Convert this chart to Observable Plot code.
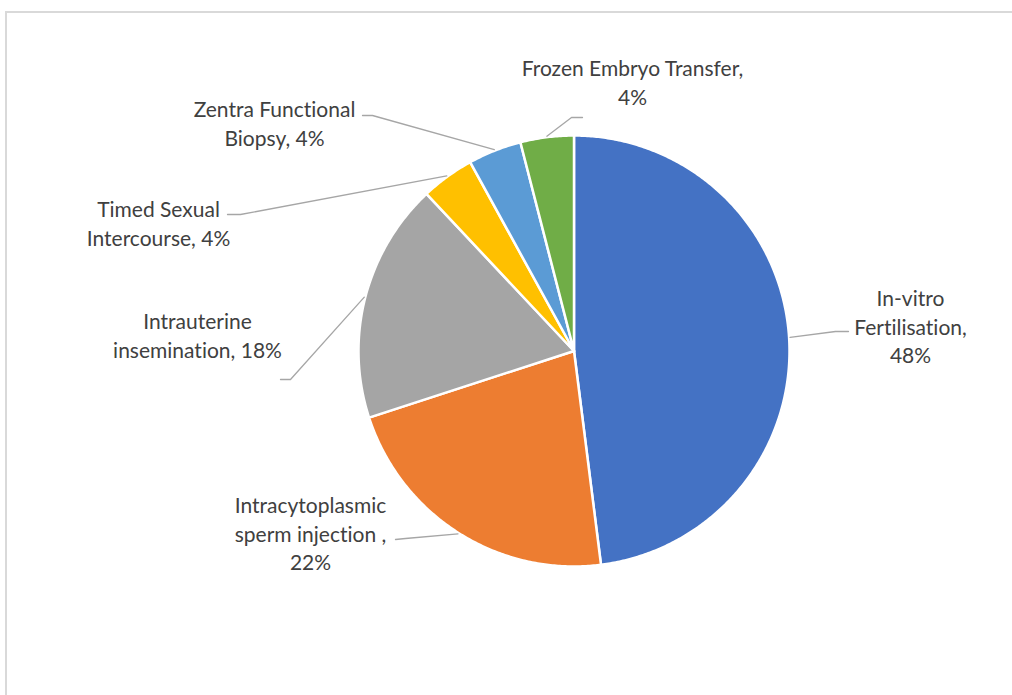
<!DOCTYPE html>
<html>
<head>
<meta charset="utf-8">
<script src="https://cdn.jsdelivr.net/npm/d3@7"></script>
<script src="https://cdn.jsdelivr.net/npm/@observablehq/plot@0.6"></script>
<style>
  html, body { margin: 0; padding: 0; background: #fff; overflow: hidden; }
  #wrap { position: relative; width: 1012px; height: 695px; }
  #frame { position: absolute; left: 5px; top: 11px; width: 1200px; height: 900px;
           border: 2px solid #d9d9d9; box-sizing: border-box; pointer-events: none; }
  #chart { position: absolute; left: 0; top: 0; }
  svg text { font-variant-ligatures: none; font-feature-settings: "liga" 0, "clig" 0; }
</style>
</head>
<body>
<div id="wrap"><div id="chart"></div><div id="frame"></div></div>
<script>
// ---- data ----
const categories = [
  "In-vitro\nFertilisation",
  "Intracytoplasmic\nsperm injection ",
  "Intrauterine\ninsemination",
  "Timed Sexual\nIntercourse",
  "Zentra Functional\nBiopsy",
  "Frozen Embryo Transfer"
];
const values = [48, 22, 18, 4, 4, 4];
const valueOnNewLine = [true, true, false, false, false, true];
const colors = ["#4472C4", "#ED7D31", "#A5A5A5", "#FFC000", "#5B9BD5", "#70AD47"];

// ---- layout (pixels) ----
const W = 1012, H = 695;
const cx = 573.5, cy = 350.5, R = 215.5;
// label block centre, leader elbow, leader end
const labelPos = [[910, 325], [310, 532], [197, 334], [158, 222], [274, 122], [632, 81]];
const elbows  = [[835, 331], [405, 538], [290, 379], [240, 214], [372, 115], [571, 117]];
const ends    = [[848, 331], [395, 539], [280, 379], [227, 214], [362, 115], [582, 117]];

const pie = d3.pie().sort(null).value(d => d)(values);
const pt = (a, r) => [cx + r * Math.sin(a), cy - r * Math.cos(a)];

const marks = [];
pie.forEach((s, i) => {
  const pts = [[cx, cy]];
  const n = Math.max(4, Math.ceil((s.endAngle - s.startAngle) / (Math.PI / 360)));
  for (let k = 0; k <= n; k++) {
    const a = s.startAngle + (s.endAngle - s.startAngle) * k / n;
    pts.push(pt(a, R));
  }
  pts.push([cx, cy]);
  marks.push(Plot.line(pts, {x: d => d[0], y: d => d[1], fill: colors[i], stroke: "#fff", strokeWidth: 2.5, strokeLinejoin: "round"}));
});

// leader lines
const leaders = [];
pie.forEach((s, i) => {
  const mid = (s.startAngle + s.endAngle) / 2;
  const p0 = pt(mid, R + 1);
  leaders.push({i, x: p0[0], y: p0[1]}, {i, x: elbows[i][0], y: elbows[i][1]}, {i, x: ends[i][0], y: ends[i][1]});
});
marks.push(Plot.line(leaders, {x: "x", y: "y", z: "i", stroke: "#a6a6a6", strokeWidth: 1.3, curve: "linear"}));

// labels
const labels = categories.map((c, i) => ({
  text: c + "," + (valueOnNewLine[i] ? "\n" : " ") + values[i] + "%",
  x: labelPos[i][0], y: labelPos[i][1]
}));
marks.push(Plot.text(labels, {x: "x", y: "y", text: "text", fill: "#404040", fontSize: 21, lineHeight: 1.34, textAnchor: "middle"}));

const svg = Plot.plot({
  width: W, height: H,
  margin: 0,
  x: {type: "identity", axis: null},
  y: {type: "identity", axis: null},
  style: {fontFamily: "Lato, 'Open Sans', sans-serif", background: "transparent", overflow: "visible"},
  marks
});
document.getElementById("chart").appendChild(svg);
</script>
</body>
</html>
